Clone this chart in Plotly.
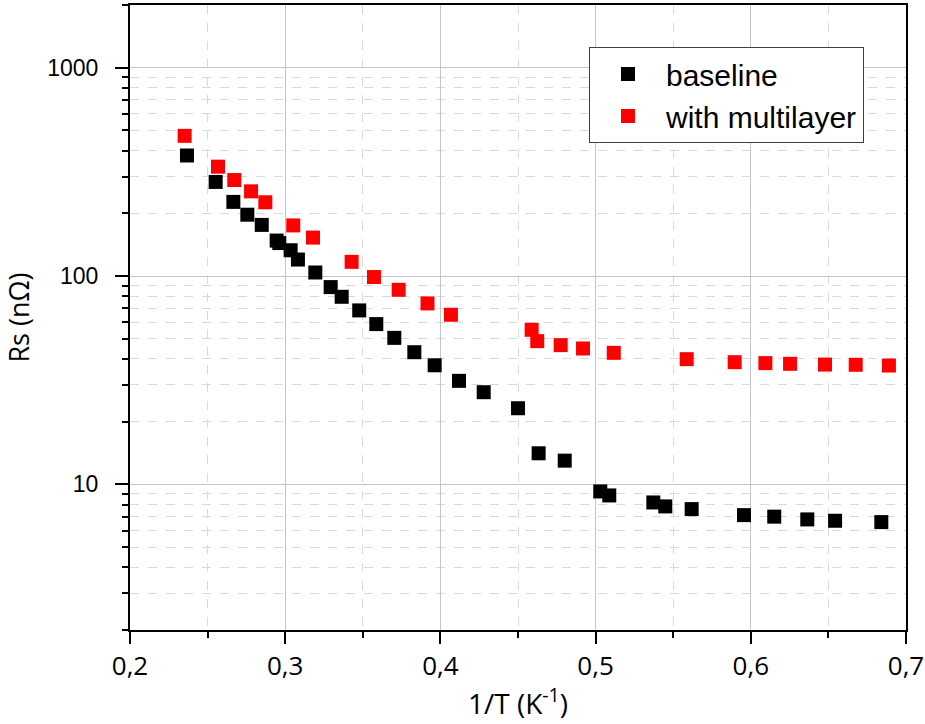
import plotly.graph_objects as go

# ---- data ----
baseline_x = [0.2367, 0.2552, 0.2666, 0.2756, 0.2849, 0.2945, 0.2962, 0.3035, 0.3082,
              0.3194, 0.3293, 0.3364, 0.3477, 0.3587, 0.3703, 0.3832, 0.3963, 0.4120,
              0.4279, 0.4500, 0.4633, 0.4801, 0.5030, 0.5088, 0.5372, 0.5449, 0.5619,
              0.5956, 0.6151, 0.6364, 0.6543, 0.6841]
baseline_y = [379, 283, 227, 197, 176, 148, 144, 133, 120,
              104, 88.5, 79.5, 68.4, 58.8, 50.5, 43.1, 37.3, 31.4,
              27.7, 23.2, 14.1, 13.0, 9.25, 8.85, 8.19, 7.84, 7.61,
              7.12, 7.00, 6.79, 6.69, 6.59]

multi_x = [0.2352, 0.2567, 0.2672, 0.2780, 0.2872, 0.3052, 0.3179, 0.3428, 0.3572,
           0.3731, 0.3917, 0.4068, 0.4588, 0.4624, 0.4775, 0.4919, 0.5117, 0.5587,
           0.5896, 0.6094, 0.6253, 0.6478, 0.6676, 0.6890]
multi_y = [471, 335, 289, 255, 226, 175, 153, 117, 98.9,
           85.9, 73.9, 65.2, 55.2, 48.7, 46.6, 44.9, 42.8, 39.9,
           38.6, 38.2, 37.9, 37.6, 37.5, 37.2]

x_tickvals = [0.2, 0.3, 0.4, 0.5, 0.6, 0.7]
x_ticktext = ["0,2", "0,3", "0,4", "0,5", "0,6", "0,7"]
x_minorvals = [0.25, 0.35, 0.45, 0.55, 0.65]
y_tickvals = [10, 100, 1000]
y_ticktext = ["10", "100", "1000"]
y_minorvals = [m * 10 ** k for k in range(0, 4) for m in range(2, 10) if 2 <= m * 10 ** k <= 2000]

fig = go.Figure()
fig.add_trace(go.Scatter(x=baseline_x, y=baseline_y, mode="markers", name="baseline",
                         marker=dict(symbol="square", size=14, color="#000000", line=dict(width=0))))
fig.add_trace(go.Scatter(x=multi_x, y=multi_y, mode="markers", name="with multilayer",
                         marker=dict(symbol="square", size=14, color="#ff0000", line=dict(width=0))))

fig.update_layout(
    width=925, height=724,
    margin=dict(l=130, r=19, t=5, b=94, autoexpand=False),
    plot_bgcolor="white", paper_bgcolor="white",
    showlegend=True,
    legend=dict(x=0.5915, y=0.9328, xanchor="left", yanchor="top",
                bgcolor="white", bordercolor="#404040", borderwidth=1,
                font=dict(family="Liberation Sans, Arial", size=30, color="black"),
                itemwidth=66, tracegroupgap=0),
)

fig.update_xaxes(
    range=[0.2, 0.7], tickmode="array", tickvals=x_tickvals, ticktext=x_ticktext,
    showline=True, linecolor="black", linewidth=2, mirror=True,
    ticks="outside", ticklen=12, tickwidth=2, tickcolor="black",
    showgrid=True, gridcolor="#c4c4c4", gridwidth=1,
    zeroline=False, automargin=False,
    tickfont=dict(family="Open Sans", size=26, color="black"),
    ticklabelstandoff=0,
    title=dict(text="1/T (K<sup>-1</sup>)", font=dict(family="Open Sans", size=28, color="black"), standoff=12),
    minor=dict(tickmode="array", tickvals=x_minorvals, ticks="outside", ticklen=6, tickwidth=2,
               tickcolor="black", showgrid=True, gridcolor="#d9d9d9", griddash="dash", gridwidth=1),
)

fig.update_yaxes(
    type="log", range=[0.30103, 3.30103], tickmode="array", tickvals=y_tickvals, ticktext=y_ticktext,
    showline=True, linecolor="black", linewidth=2, mirror=True,
    ticks="outside", ticklen=13, tickwidth=2, tickcolor="black",
    showgrid=True, gridcolor="#c4c4c4", gridwidth=1,
    zeroline=False, automargin=False,
    tickfont=dict(family="Liberation Sans, Arial", size=23, color="black"),
    ticklabelstandoff=12,
    title=dict(text="Rs (nΩ)", font=dict(family="Open Sans", size=27, color="black"), standoff=10),
    minor=dict(tickmode="array", tickvals=y_minorvals, ticks="outside", ticklen=6, tickwidth=2,
               tickcolor="black", showgrid=True, gridcolor="#d9d9d9", griddash="dash", gridwidth=1),
)

fig.write_html("out.html", config={"displayModeBar": False},
               post_script="document.body.style.margin='0';document.body.style.padding='0';")
